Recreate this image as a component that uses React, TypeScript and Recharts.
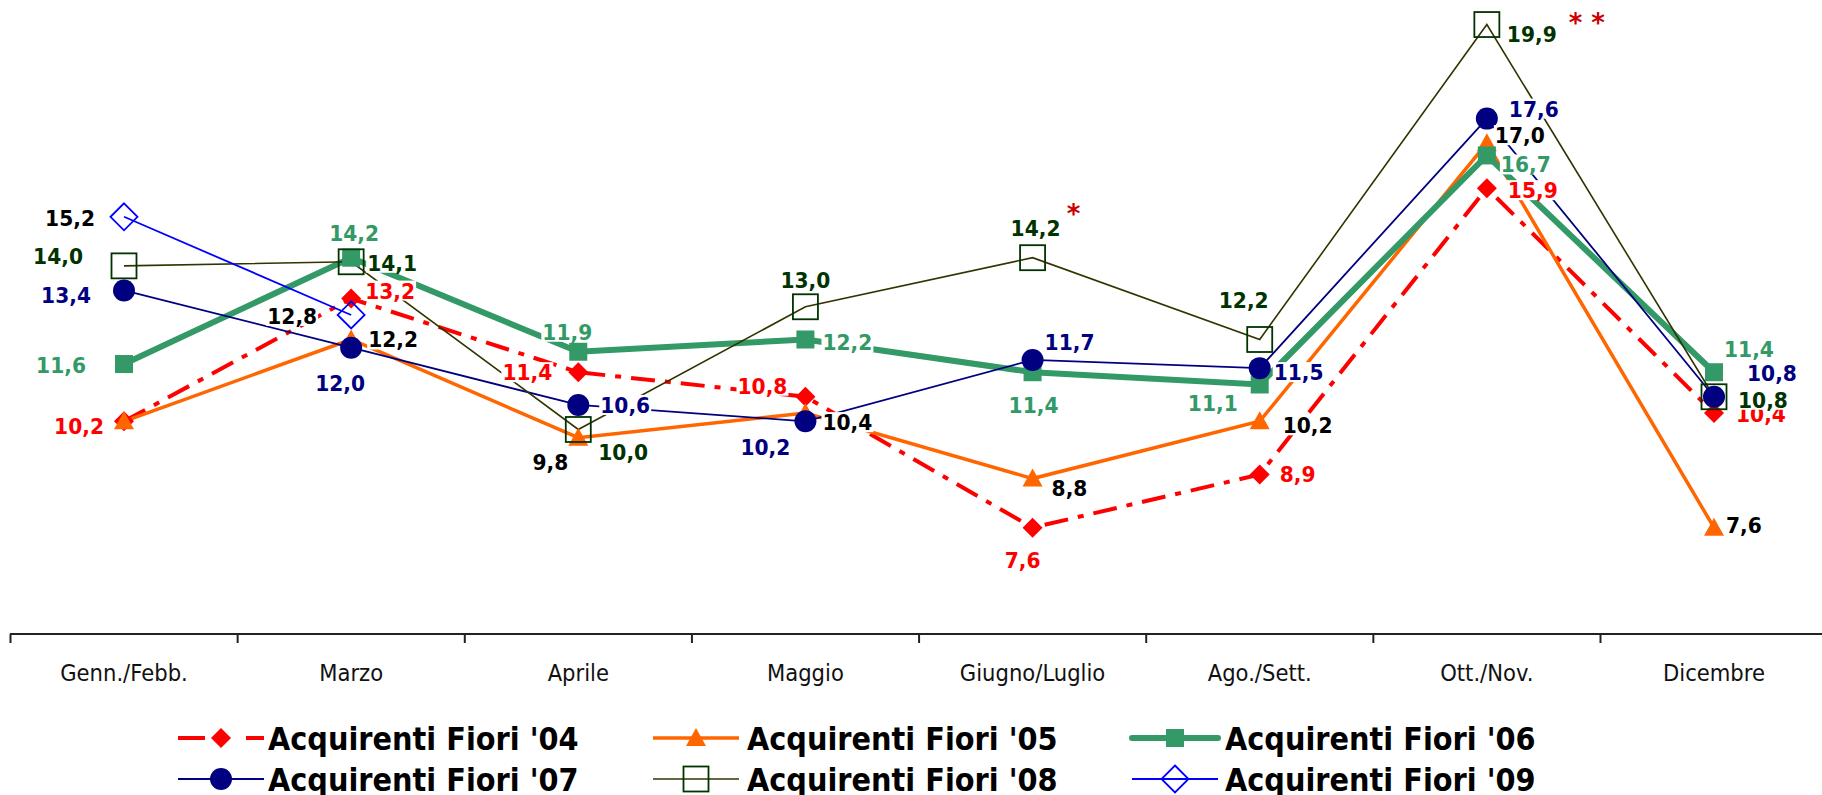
import React from 'react';
import { LineChart, Line, XAxis, YAxis, LabelList, Legend } from 'recharts';

// ---------- data ----------
const categories = ['Genn./Febb.', 'Marzo', 'Aprile', 'Maggio', 'Giugno/Luglio', 'Ago./Sett.', 'Ott./Nov.', 'Dicembre'];
const fiori04 = [10.2, 13.2, 11.4, 10.8, 7.6, 8.9, 15.9, 10.4];
const fiori05 = [10.2, 12.2, 9.8, 10.4, 8.8, 10.2, 17.0, 7.6];
const fiori06 = [11.6, 14.2, 11.9, 12.2, 11.4, 11.1, 16.7, 11.4];
const fiori07 = [13.4, 12.0, 10.6, 10.2, 11.7, 11.5, 17.6, 10.8];
const fiori08 = [14.0, 14.1, 10.0, 13.0, 14.2, 12.2, 19.9, 10.8];
const fiori09 = [15.2, 12.8, null, null, null, null, null, null];
const seriesNames = ["Acquirenti Fiori '04", "Acquirenti Fiori '05", "Acquirenti Fiori '06", "Acquirenti Fiori '07", "Acquirenti Fiori '08", "Acquirenti Fiori '09"];
const notes08 = ['', '', '', '', '*', '', '* *', ''];

const rows = categories.map((name, i) => ({
  name,
  f04: fiori04[i],
  f05: fiori05[i],
  f06: fiori06[i],
  f07: fiori07[i],
  f08: fiori08[i],
  f09: fiori09[i],
}));

// ---------- styles ----------
const W = 1822;
const H = 795;
const BAND = 227;
const FONT = "'DejaVu Sans', Verdana, sans-serif";

type Anchor = 'start' | 'middle' | 'end';
type Off = [Anchor, number, number] | null;

const L04: Off[] = [['end', -20, 5], ['start', 14, -8], ['end', -26, 0], ['end', -18, -11], ['middle', -10, 32], ['start', 20, 0], ['start', 21, 2], ['start', 22, 1]];
const L05: Off[] = [null, ['start', 17, 0], ['end', -10, 24], ['start', 17, 9], ['start', 19, 9], ['start', 23, 4], ['start', 8, -8], ['start', 12, -3]];
const L06: Off[] = [['end', -38, 1], ['middle', 3, -25], ['middle', -11, -20], ['start', 17, 3], ['middle', 1, 33], ['end', -22, 19], ['start', 14, 9], ['start', 10, -23]];
const L07: Off[] = [['end', -33, 5], ['middle', -11, 35], ['start', 22, 0], ['middle', -40, 26], ['start', 12, -18], ['start', 14, 4], ['start', 22, -10], ['start', 33, -24]];
const L08: Off[] = [['end', -41, -10], ['start', 16, 1], ['start', 20, 23], ['middle', 0, -27], ['middle', 3, -30], ['middle', -16, -39], ['start', 20, 9], ['start', 24, 3]];
const L09: Off[] = [['end', -29, 1], ['end', -34, 1], null, null, null, null, null, null];
const NOTE_POS: ([number, number] | null)[] = [null, null, null, null, [41, -49], null, [100, -7], null];

type Kind = 'diamond' | 'triangle' | 'square' | 'circle' | 'openSquare' | 'openDiamond';

interface Cfg {
  key: string;
  stroke: string;
  width: number;
  dash?: string;
  kind: Kind;
  markerColor: string;
  labelColor: string;
  offsets: Off[];
}

const series: Cfg[] = [
  { key: 'f04', stroke: '#ff0000', width: 4, dash: '24 10 6 10', kind: 'diamond', markerColor: '#ff0000', labelColor: '#ff0000', offsets: L04 },
  { key: 'f05', stroke: '#ff6600', width: 3.5, kind: 'triangle', markerColor: '#ff6600', labelColor: '#000000', offsets: L05 },
  { key: 'f06', stroke: '#339966', width: 6, kind: 'square', markerColor: '#339966', labelColor: '#339966', offsets: L06 },
  { key: 'f07', stroke: '#000080', width: 1.8, kind: 'circle', markerColor: '#000080', labelColor: '#000080', offsets: L07 },
  { key: 'f08', stroke: '#333300', width: 1.6, kind: 'openSquare', markerColor: '#003300', labelColor: '#003300', offsets: L08 },
  { key: 'f09', stroke: '#0000ff', width: 1.8, kind: 'openDiamond', markerColor: '#0000ff', labelColor: '#000000', offsets: L09 },
];

function markerShape(kind: Kind, cx: number, cy: number, color: string, k?: string) {
  switch (kind) {
    case 'diamond':
      return <path key={k} d={`M${cx},${cy - 10}L${cx + 10},${cy}L${cx},${cy + 10}L${cx - 10},${cy}Z`} fill={color} stroke="none" />;
    case 'triangle':
      return <path key={k} d={`M${cx},${cy - 10}L${cx + 10},${cy + 8}L${cx - 10},${cy + 8}Z`} fill={color} stroke="none" />;
    case 'square':
      return <rect key={k} x={cx - 9} y={cy - 9} width={18} height={18} fill={color} />;
    case 'circle':
      return <ellipse key={k} cx={cx} cy={cy} rx={11} ry={11} fill={color} />;
    case 'openSquare':
      return <rect key={k} x={cx - 12.5} y={cy - 12.5} width={25} height={25} fill="none" stroke={color} strokeWidth={1.8} />;
    case 'openDiamond':
      return <path key={k} d={`M${cx},${cy - 13.5}L${cx + 13.5},${cy}L${cx},${cy + 13.5}L${cx - 13.5},${cy}Z`} fill="none" stroke={color} strokeWidth={1.8} />;
  }
  return null;
}

const makeDot = (cfg: Cfg) => (p: any) => {
  const k = `${cfg.key}-dot-${p.index}`;
  if (p.value == null || p.cx == null || p.cy == null || isNaN(p.cy)) return <g key={k} />;
  return markerShape(cfg.kind, p.cx, p.cy, cfg.markerColor, k);
};

const LABEL_FS = 22;
const LABEL_SX = 0.92;
const fmt = (v: number) => v.toFixed(1).replace('.', ',');
const textWidth = (s: string) => {
  let w = 0;
  for (const ch of s) w += ch === ',' ? 0.38 : 0.696;
  return w * LABEL_FS * LABEL_SX;
};

const makeLabel = (cfg: Cfg) => (p: any) => {
  const { x, y, value, index } = p;
  if (value == null || x == null || y == null) return null;
  const off = cfg.offsets[index];
  if (!off) return null;
  const [anchor, dx, dy] = off;
  const s = fmt(Number(value));
  const w = textWidth(s);
  const tx = x + dx;
  const cy = y + dy;
  const left = anchor === 'start' ? tx : anchor === 'end' ? tx - w : tx - w / 2;
  const note = cfg.key === 'f08' ? notes08[index] : '';
  const np = NOTE_POS[index];
  return (
    <g key={`${cfg.key}-lbl-${index}`}>
      <rect x={left - 1} y={cy - 10} width={w + 2} height={20} fill="#ffffff" />
      <text
        transform={`translate(${tx},${cy + 8}) scale(${LABEL_SX},1)`}
        textAnchor={anchor}
        fontFamily={FONT}
        fontWeight="bold"
        fontSize={LABEL_FS}
        fill={cfg.labelColor}
      >
        {s}
      </text>
      {note && np ? (
        <text x={x + np[0]} y={y + np[1] + 14} textAnchor="middle" fontFamily={FONT} fontWeight="bold" fontSize={26} fill="#cc0000">
          {note}
        </text>
      ) : null}
    </g>
  );
};

const AxisTick = (props: any) => {
  const { x, y, payload } = props;
  return (
    <g>
      <line x1={x - BAND / 2} x2={x - BAND / 2} y1={y} y2={y + 9} stroke="#222" strokeWidth={2} />
      <text transform={`translate(${x},${y + 47}) scale(0.92,1)`} textAnchor="middle" fontFamily={FONT} fontSize={23} fill="#111">
        {payload.value}
      </text>
    </g>
  );
};

// legend layout
const LEG_ICON_X = [178, 653, 1132];
const LEG_TEXT_X = [268, 747, 1225];
const LEG_ROW_Y = [23, 64];

const LegendBlock = () => (
  <div style={{ width: W, height: 80, position: 'relative' }}>
    <svg width={W} height={80} style={{ display: 'block' }}>
      {series.map((cfg, i) => {
        const col = i % 3;
        const row = Math.floor(i / 3);
        const x0 = LEG_ICON_X[col];
        const x1 = x0 + 86;
        const cy = LEG_ROW_Y[row];
        const mid = (x0 + x1) / 2;
        return (
          <g key={cfg.key}>
            {cfg.dash ? (
              <>
                <line x1={x0} x2={x0 + 27} y1={cy} y2={cy} stroke={cfg.stroke} strokeWidth={cfg.width} />
                <line x1={x1 - 18} x2={x1} y1={cy} y2={cy} stroke={cfg.stroke} strokeWidth={cfg.width} />
              </>
            ) : (
              <line x1={x0} x2={x1} y1={cy} y2={cy} stroke={cfg.stroke} strokeWidth={cfg.width} strokeLinecap={cfg.kind === 'square' ? 'round' : 'butt'} />
            )}
            {markerShape(cfg.kind, mid, cy, cfg.markerColor)}
            <text
              transform={`translate(${LEG_TEXT_X[col]},${cy + 11.5}) scale(0.9,1)`}
              fontFamily={FONT}
              fontWeight="bold"
              fontSize={32}
              fill="#000"
            >
              {seriesNames[i]}
            </text>
          </g>
        );
      })}
    </svg>
  </div>
);

export default function App() {
  return (
    <div style={{ position: 'absolute', left: 0, top: 0, width: W, height: H, overflow: 'hidden', background: '#fff' }}>
      <LineChart width={W} height={H} data={rows} margin={{ top: 0, right: 0, bottom: 0, left: 10 }}>
        <XAxis
          dataKey="name"
          height={81}
          interval={0}
          tickSize={0}
          tickMargin={0}
          tickLine={false}
          padding={{ left: 114, right: 108 }}
          axisLine={{ stroke: '#222', strokeWidth: 2 }}
          tick={<AxisTick />}
        />
        <YAxis hide domain={[5, 20.5]} type="number" allowDataOverflow />
        <Legend verticalAlign="bottom" wrapperStyle={{ left: 0, bottom: 0, width: W, height: 80, padding: 0, margin: 0 }} content={() => <LegendBlock />} />
        {series.map((cfg, i) => (
          <Line
            key={cfg.key}
            dataKey={cfg.key}
            name={seriesNames[i]}
            type="linear"
            stroke={cfg.stroke}
            strokeWidth={cfg.width}
            strokeDasharray={cfg.dash}
            dot={makeDot(cfg)}
            activeDot={false}
            isAnimationActive={false}
            connectNulls={false}
          />
        ))}
        {series.map((cfg) => (
          <Line
            key={`${cfg.key}-labels`}
            dataKey={cfg.key}
            stroke="none"
            dot={false}
            activeDot={false}
            legendType="none"
            isAnimationActive={false}
          >
            <LabelList dataKey={cfg.key} content={makeLabel(cfg)} />
          </Line>
        ))}
      </LineChart>
    </div>
  );
}
